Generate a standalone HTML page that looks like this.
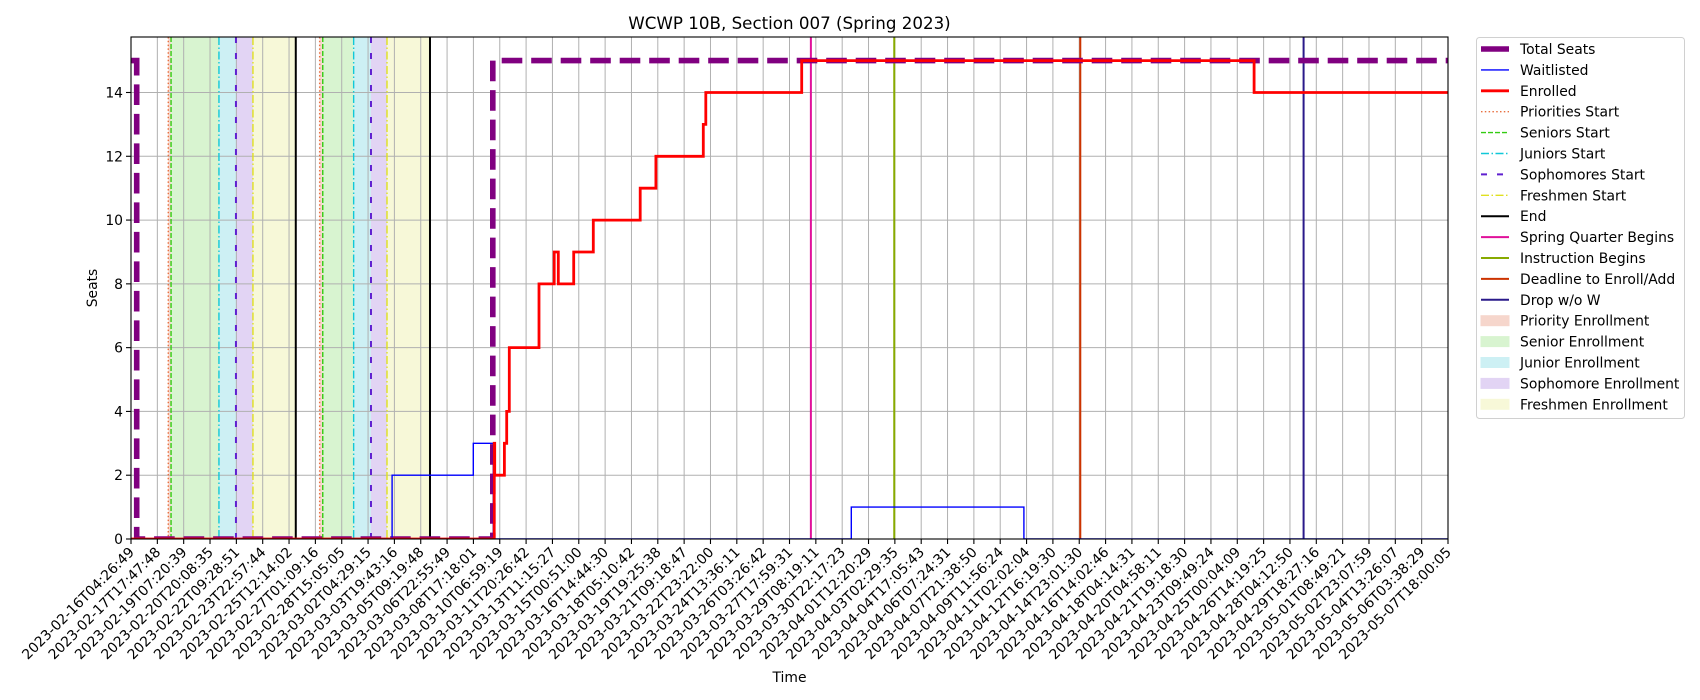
<!DOCTYPE html>
<html><head><meta charset="utf-8"><style>
body{margin:0;background:#fff;}
svg{display:block;font-family:"DejaVu Sans","Liberation Sans",sans-serif;}
</style></head><body>
<svg id="chart" width="1700" height="700" viewBox="0 0 1700 700" xmlns="http://www.w3.org/2000/svg"></svg>
<script>
const tickLabels=["2023-02-16T04:26:49","2023-02-17T17:47:48","2023-02-19T07:20:39","2023-02-20T20:08:35","2023-02-22T09:28:51","2023-02-23T22:57:44","2023-02-25T12:14:02","2023-02-27T01:09:16","2023-02-28T15:05:05","2023-03-02T04:29:15","2023-03-03T19:43:16","2023-03-05T09:19:48","2023-03-06T22:55:49","2023-03-08T17:18:01","2023-03-10T06:59:19","2023-03-11T20:26:42","2023-03-13T11:15:27","2023-03-15T00:51:00","2023-03-16T14:44:30","2023-03-18T05:10:42","2023-03-19T19:25:38","2023-03-21T09:18:47","2023-03-22T23:22:00","2023-03-24T13:36:11","2023-03-26T03:26:42","2023-03-27T17:59:31","2023-03-29T08:19:11","2023-03-30T22:17:23","2023-04-01T12:20:29","2023-04-03T02:29:35","2023-04-04T17:05:43","2023-04-06T07:24:31","2023-04-07T21:38:50","2023-04-09T11:56:24","2023-04-11T02:02:04","2023-04-12T16:19:30","2023-04-14T23:01:30","2023-04-16T14:02:46","2023-04-18T04:14:31","2023-04-20T04:58:11","2023-04-21T19:18:30","2023-04-23T09:49:24","2023-04-25T00:04:09","2023-04-26T14:19:25","2023-04-28T04:12:50","2023-04-29T18:27:16","2023-05-01T08:49:21","2023-05-02T23:07:59","2023-05-04T13:26:07","2023-05-06T03:38:29","2023-05-07T18:00:05"];
const yTicks=[0,2,4,6,8,10,12,14];
// times in days since first tick
const totalT=[0,0.35,0.35,22.13,22.13,80.56];
const totalV=[15,15,0,0,15,15];
const waitT=[0,15.97,15.97,20.94,20.94,22.16,22.16,44.06,44.06,54.62,54.62,80.56];
const waitV=[0,0,2,2,3,3,0,0,1,1,0,0];
const enrT=[0,22.22,22.25,22.84,22.98,23.14,24.96,25.89,26.14,27.08,28.28,31.15,32.11,35.01,35.16,41.03,68.70];
const enrV=[0,3,2,3,4,6,8,9,8,9,10,11,12,13,14,15,14];
const round1=[2.28,2.45,5.38,6.42,7.46,10.08];
const round2=[11.54,11.73,13.62,14.68,15.66,18.29];
const eventNames=["Spring Quarter Begins","Instruction Begins","Deadline to Enroll/Add","Drop w/o W"];
const eventT=[41.59,46.69,58.07,71.73];

const L=131,R=1448,T=37,B=539,XMAX=80.564,YMAX=15.74;
const NS="http://www.w3.org/2000/svg";
const svg=document.getElementById('chart');
const xs=t=>L+t/XMAX*(R-L);
const ys=v=>B-v/YMAX*(B-T);
const xi=i=>L+i/(tickLabels.length-1)*(R-L);
function mk(tag,attrs,parent){const e=document.createElementNS(NS,tag);for(const k in attrs)e.setAttribute(k,attrs[k]);(parent||svg).appendChild(e);return e;}
const clip=mk('clipPath',{id:'pc'});mk('rect',{x:L,y:T,width:R-L,height:B-T},clip);
const plot=mk('g',{'clip-path':'url(#pc)'});



const shadeCols=['#f6d6cc','#d8f4d0','#cdf0f4','#e2d4f4','#f7f8d8'];
const shadeNames=['priority','senior','junior','sophomore','freshmen'];
[round1,round2].forEach((r,ri)=>{
  for(let k=0;k<5;k++){
    const s=mk('rect',{x:xs(r[k]),y:T,width:xs(r[k+1])-xs(r[k]),height:B-T,fill:shadeCols[k]},plot);
    
    
  }
});
tickLabels.forEach((lab,i)=>{
  const g=mk('line',{x1:xi(i),x2:xi(i),y1:T,y2:B,stroke:'#b0b0b0','stroke-width':1},plot);
  
  
});
yTicks.forEach(v=>{
  const g=mk('line',{x1:L,x2:R,y1:ys(v),y2:ys(v),stroke:'#b0b0b0','stroke-width':1},plot);
  
  
});
const startStyles=[['#e87040','1.4','1.5 2.3'],['#33cc11','1.4','5 2'],['#11c8d8','1.4','8 2.5 1.5 2.5'],['#6020d0','2','6 10'],['#e0e020','1.4','8 2.5 1.5 2.5'],['#000','2','']];
const startNames=['priorities-start','seniors-start','juniors-start','sophomores-start','freshmen-start','end'];
[round1,round2].forEach((r,ri)=>{
  r.forEach((t,k)=>{
    const st=startStyles[k];
    const l=mk('line',{x1:xs(t),x2:xs(t),y1:T,y2:B,stroke:st[0],'stroke-width':st[1],'stroke-dasharray':st[2]},plot);
    
    
  });
});
const eventCols=['#e0109a','#88aa00','#cc3300','#2a1a8a'];
eventT.forEach((t,k)=>{
  const l=mk('line',{x1:xs(t),x2:xs(t),y1:T,y2:B,stroke:eventCols[k],'stroke-width':2},plot);
  
  
});
function path(tArr,vArr){return tArr.map((t,i)=>(i?'L':'M')+xs(t).toFixed(1)+','+ys(vArr[i]).toFixed(1)).join('');}
function stepPath(tArr,vArr,end){let d='M'+xs(tArr[0])+','+ys(vArr[0]);for(let i=1;i<tArr.length;i++){d+='H'+xs(tArr[i]).toFixed(1)+'V'+ys(vArr[i]).toFixed(1);}d+='H'+xs(end);return d;}
const tot=mk('path',{d:path(totalT,totalV),fill:'none',stroke:'#800080','stroke-width':5.6,'stroke-dasharray':'20.6 8.9'},plot);


const wl=mk('path',{d:path(waitT,waitV),fill:'none',stroke:'#0000ff','stroke-width':1.4},plot);


const en=mk('path',{d:stepPath(enrT,enrV,XMAX),fill:'none',stroke:'#ff0000','stroke-width':2.8},plot);


const fr=mk('rect',{x:L,y:T,width:R-L,height:B-T,fill:'none',stroke:'#000','stroke-width':1.1});


tickLabels.forEach((lab,i)=>{
  const x=xi(i);
  const tk=mk('line',{x1:x,x2:x,y1:B,y2:B+5,stroke:'#000','stroke-width':1.1});
  
  
  const tx=mk('text',{x:x+4,y:B+14,'font-size':13.9,'text-anchor':'end',transform:`rotate(-45 ${x+4} ${B+14})`});
  tx.textContent=lab;
  
  
});
yTicks.forEach(v=>{
  const y=ys(v);
  const tk=mk('line',{x1:L-5,x2:L,y1:y,y2:y,stroke:'#000','stroke-width':1.1});
  
  
  const tx=mk('text',{x:L-8,y:y+5,'font-size':13.9,'text-anchor':'end'});
  tx.textContent=v;
  
  
});
const title=mk('text',{x:(L+R)/2,y:29,'font-size':16.7,'text-anchor':'middle'});
title.textContent='WCWP 10B, Section 007 (Spring 2023)';


const xt=mk('text',{x:(L+R)/2,y:682,'font-size':13.9,'text-anchor':'middle'});
xt.textContent='Time';


const yt=mk('text',{x:97,y:(T+B)/2,'font-size':13.9,'text-anchor':'middle',transform:`rotate(-90 97 ${(T+B)/2})`});
yt.textContent='Seats';


const legend=mk('g',{});


mk('rect',{x:1476.5,y:37.5,width:208,height:381,rx:3,fill:'#fff',stroke:'#d0d0d0'},legend);
const legLabels=['Total Seats','Waitlisted','Enrolled','Priorities Start','Seniors Start','Juniors Start','Sophomores Start','Freshmen Start','End','Spring Quarter Begins','Instruction Begins','Deadline to Enroll/Add','Drop w/o W','Priority Enrollment','Senior Enrollment','Junior Enrollment','Sophomore Enrollment','Freshmen Enrollment'];
const legLine=[['#800080',5.6,''],['#0000ff',1.4,''],['#ff0000',2.8,''],...startStyles,...eventCols.map(c=>[c,2,''])];
legLabels.forEach((lab,i)=>{
  const y=49+i*20.9;
  const e=mk('g',{},legend);
  
  
  if(i<13){const s=legLine[i];mk('line',{x1:1481,x2:1509,y1:y,y2:y,stroke:s[0],'stroke-width':s[1],'stroke-dasharray':s[2]},e);}
  else mk('rect',{x:1481,y:y-5,width:28,height:10,fill:shadeCols[i-13],stroke:shadeCols[i-13]},e);
  const tx=mk('text',{x:1520,y:y+5,'font-size':13.9},e);
  tx.textContent=lab;
});
</script>
</body></html>
